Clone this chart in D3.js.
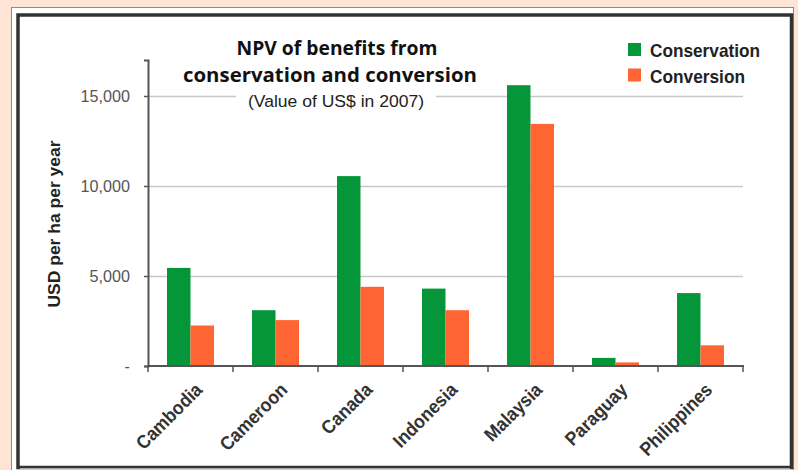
<!DOCTYPE html>
<html>
<head>
<meta charset="utf-8">
<script src="https://cdn.jsdelivr.net/npm/d3@7"></script>
<style>
  body { margin: 0; background: #fde4d5; }
  svg { display: block; }
</style>
</head>
<body>
<div id="chart"></div>
<script>
/* NPV of benefits from conservation and conversion, grouped bars */

const countries = ["Cambodia", "Cameroon", "Canada", "Indonesia", "Malaysia", "Paraguay", "Philippines"];
const seriesNames = ["Conservation", "Conversion"];
const conservation = [5450, 3100, 10550, 4300, 15600, 450, 4050];
const conversion = [2250, 2550, 4400, 3100, 13450, 200, 1150];
const yTicks = [0, 5000, 10000, 15000];

const colors = ["#05963a", "#ff6533"];

const width = 798,
  height = 470;

const data = countries.map((c, i) => ({
  country: c,
  values: [conservation[i], conversion[i]]
}));

const svg = d3.select("#chart")
  .append("svg")
  .attr("width", width)
  .attr("height", height);

// frame
svg.append("rect")
  .attr("x", 11.5).attr("y", 7.5)
  .attr("width", 782).attr("height", 470)
  .attr("fill", "#fff")
  .attr("stroke", "#8a8a8a");
svg.append("rect")
  .attr("x", 18).attr("y", 15)
  .attr("width", 773.5).attr("height", 452.5)
  .attr("fill", "none")
  .attr("stroke", "#333")
  .attr("stroke-width", 3.5);
svg.append("line")
  .attr("x1", 20).attr("x2", 790)
  .attr("y1", 468.5).attr("y2", 468.5)
  .attr("stroke", "#aaa");

const x0 = d3.scaleBand().domain(countries).range([148, 743]);
const x1 = d3.scaleBand().domain(seriesNames).range([19, 66]);
const y = d3.scaleLinear().domain([0, 17000]).range([366, 60]);

// gridlines
svg.append("g")
  .selectAll("line")
  .data(yTicks.filter(d => d > 0))
  .join("line")
  .attr("x1", 148).attr("x2", 743)
  .attr("y1", d => y(d) + 0.5).attr("y2", d => y(d) + 0.5)
  .attr("stroke", "#c8c8c8")
  .attr("stroke-width", 1.3);

// bars
svg.append("g")
  .selectAll("g")
  .data(data)
  .join("g")
  .attr("transform", d => `translate(${x0(d.country)},0)`)
  .selectAll("rect")
  .data(d => d.values.map((v, i) => ({ key: seriesNames[i], value: v, i })))
  .join("rect")
  .attr("x", d => x1(d.key))
  .attr("width", x1.bandwidth())
  .attr("y", d => y(d.value))
  .attr("height", d => y(0) - y(d.value))
  .attr("fill", d => colors[d.i]);

// y axis
const yAxis = svg.append("g")
  .attr("transform", "translate(148,0)")
  .call(d3.axisLeft(y).tickValues(yTicks).tickSize(4).tickPadding(14)
    .tickFormat(d => d === 0 ? "-" : d3.format(",")(d)));
yAxis.select(".domain").attr("stroke", "#555").attr("stroke-width", 2);
yAxis.selectAll(".tick line").attr("stroke", "#555").attr("stroke-width", 1.5);
yAxis.selectAll(".tick text")
  .attr("font-family", "Liberation Sans, Arial, sans-serif")
  .attr("font-size", 17)
  .attr("fill", "#555")
  .each(function() {
    const w = this.getComputedTextLength();
    d3.select(this).attr("textLength", w * 0.95).attr("lengthAdjust", "spacingAndGlyphs");
  });

// x axis
const xAxis = svg.append("g")
  .attr("transform", "translate(0,366)");
xAxis.append("line")
  .attr("x1", 147).attr("x2", 744)
  .attr("stroke", "#555").attr("stroke-width", 2);
xAxis.selectAll(".xt")
  .data(d3.range(countries.length + 1))
  .join("line")
  .attr("class", "xt")
  .attr("x1", i => 148 + i * x0.step()).attr("x2", i => 148 + i * x0.step())
  .attr("y1", 0).attr("y2", 6)
  .attr("stroke", "#555").attr("stroke-width", 1.5);
xAxis.selectAll("text")
  .data(countries)
  .join("text")
  .attr("transform", d => `translate(${x0(d) + x0.bandwidth() / 2 + 13},${25}) rotate(-45)`)
  .attr("text-anchor", "end")
  .attr("font-family", "Liberation Sans, Arial, sans-serif")
  .attr("font-weight", "bold")
  .attr("font-size", 19)
  .attr("fill", "#333")
  .text(d => d)
  .each(function() {
    const w = this.getComputedTextLength();
    d3.select(this).attr("textLength", w * 0.92).attr("lengthAdjust", "spacingAndGlyphs");
  });

// y axis title
svg.append("text")
  .attr("transform", "translate(60,224) rotate(-90)")
  .attr("text-anchor", "middle")
  .attr("font-family", "Liberation Sans, Arial, sans-serif")
  .attr("font-weight", "bold")
  .attr("font-size", 17)
  .attr("fill", "#222")
  .attr("textLength", 167)
  .attr("lengthAdjust", "spacingAndGlyphs")
  .text("USD per ha per year");

// title block
svg.append("rect")
  .attr("x", 236).attr("y", 88)
  .attr("width", 200).attr("height", 24)
  .attr("fill", "#fff");
const title = svg.append("g")
  .attr("font-family", "Open Sans, sans-serif")
  .attr("font-weight", "bold")
  .attr("fill", "#111")
  .attr("text-anchor", "middle");
title.append("text")
  .attr("x", 337).attr("y", 55)
  .attr("font-size", 19)
  .attr("textLength", 201)
  .attr("lengthAdjust", "spacingAndGlyphs")
  .text("NPV of benefits from");
title.append("text")
  .attr("x", 330).attr("y", 82)
  .attr("font-size", 19)
  .attr("textLength", 294)
  .attr("lengthAdjust", "spacingAndGlyphs")
  .text("conservation and conversion");
svg.append("text")
  .attr("x", 336).attr("y", 107)
  .attr("text-anchor", "middle")
  .attr("font-family", "Liberation Sans, Arial, sans-serif")
  .attr("font-size", 16)
  .attr("fill", "#222")
  .attr("textLength", 176)
  .attr("lengthAdjust", "spacingAndGlyphs")
  .text("(Value of US$ in 2007)");

// legend
const legend = svg.append("g")
  .selectAll("g")
  .data(seriesNames)
  .join("g")
  .attr("transform", (d, i) => `translate(628,${43 + i * 25.5})`);
legend.append("rect")
  .attr("width", 13).attr("height", 13)
  .attr("fill", (d, i) => colors[i]);
legend.append("text")
  .attr("x", 22).attr("y", 14)
  .attr("font-family", "Liberation Sans, Arial, sans-serif")
  .attr("font-weight", "bold")
  .attr("font-size", 19)
  .attr("fill", "#222")
  .attr("textLength", (d, i) => i ? 95 : 110)
  .attr("lengthAdjust", "spacingAndGlyphs")
  .text(d => d);
</script>
</body>
</html>
